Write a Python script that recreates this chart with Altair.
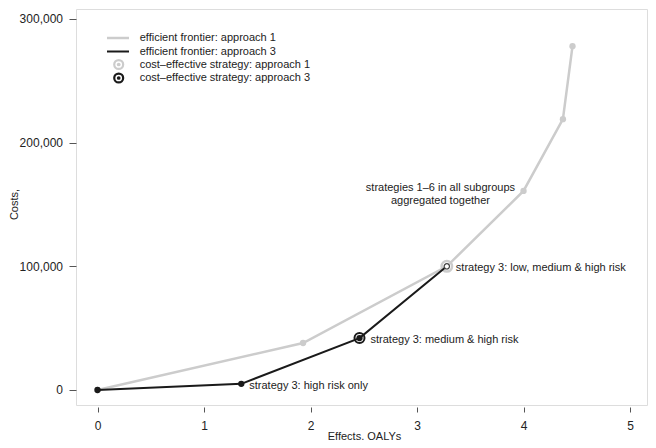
import altair as alt
import pandas as pd

# ---- data ----
ef1_x = [0, 1.93, 3.28, 4.0, 4.37, 4.46]
ef1_y = [0, 38000, 100000, 161000, 219000, 278000]
ef3_x = [0, 1.35, 2.46, 3.28]
ef3_y = [0, 5000, 42000, 100000]
ce1_x = [3.28]
ce1_y = [100000]
ce3_x = [2.46]
ce3_y = [42000]
ann_labels = ["strategy 3: high risk only", "strategy 3: medium & high risk",
              "strategy 3: low, medium & high risk"]
ann_x = [1.35, 2.46, 3.28]
ann_y = [5000, 42000, 100000]
ann_dx = [8, 11, 9]
note_lines = ["strategies 1\u20136 in all subgroups", "aggregated together"]
note_x = [3.22]
note_y = [163000]
legend_labels = ["efficient frontier: approach 1", "efficient frontier: approach 3",
                 "cost\u2013effective strategy: approach 1", "cost\u2013effective strategy: approach 3"]
x_ticks = [0, 1, 2, 3, 4, 5]
y_ticks = [0, 100000, 200000, 300000]

GRAY = "#cccccc"
BLACK = "#1a1a1a"
TXT = "#222222"
FONT = "Liberation Sans"

W, H = 571, 396

xs = alt.Scale(domain=[-0.202, 5.1595], nice=False, zero=False)
ys = alt.Scale(domain=[-12130, 308086], nice=False, zero=False)
x_axis = alt.Axis(values=x_ticks, format="d", title="Effects, QALYs", grid=False, domain=False,
                  ticks=True, tickSize=5, offset=2, labelPadding=8, tickColor="#555",
                  labelFontSize=12, labelFont=FONT, labelColor=TXT, titleFont=FONT,
                  titleFontSize=11, titleFontWeight="normal", titleColor=TXT,
                  titleX=288, titleY=32, titleBaseline="alphabetic")
y_axis = alt.Axis(values=y_ticks, format=",.0f", title="Costs,", grid=False, domain=False,
                  ticks=True, tickSize=7, offset=0, labelPadding=6.5, tickColor="#555",
                  labelFontSize=12, labelFont=FONT, labelColor=TXT, titleFont=FONT,
                  titleFontSize=11, titleFontWeight="normal", titleColor=TXT,
                  titleX=-59, titleY=195, titleAngle=270, titleAlign="center",
                  titleBaseline="alphabetic")

def X(f="x"):
    return alt.X(f"{f}:Q", scale=xs, axis=x_axis)

def Y(f="y"):
    return alt.Y(f"{f}:Q", scale=ys, axis=y_axis)

d1 = pd.DataFrame({"x": ef1_x, "y": ef1_y})
d3 = pd.DataFrame({"x": ef3_x, "y": ef3_y})
dc1 = pd.DataFrame({"x": ce1_x, "y": ce1_y})
dc3 = pd.DataFrame({"x": ce3_x, "y": ce3_y})

layers = []
layers.append(alt.Chart(d1).mark_line(color=GRAY, strokeWidth=2.5).encode(x=X(), y=Y()))
layers.append(alt.Chart(d1).mark_circle(color=GRAY, size=40, opacity=1).encode(x=X(), y=Y()))
layers.append(alt.Chart(dc1).mark_point(shape="circle", color=GRAY, filled=False, size=110,
                                        strokeWidth=2.5, opacity=1).encode(x=X(), y=Y()))
layers.append(alt.Chart(d3).mark_line(color=BLACK, strokeWidth=2).encode(x=X(), y=Y()))
layers.append(alt.Chart(d3.iloc[:3]).mark_circle(color=BLACK, size=40, opacity=1).encode(x=X(), y=Y()))
layers.append(alt.Chart(dc1).mark_point(shape="circle", fill="white", stroke="#444", filled=True,
                                        size=28, strokeWidth=1.2, opacity=1).encode(x=X(), y=Y()))
layers.append(alt.Chart(dc3).mark_point(shape="circle", color=BLACK, filled=False, size=100,
                                        strokeWidth=2, opacity=1).encode(x=X(), y=Y()))

for lab, ax, ay, dx in zip(ann_labels, ann_x, ann_y, ann_dx):
    dfa = pd.DataFrame({"x": [ax], "y": [ay], "t": [lab]})
    layers.append(alt.Chart(dfa).mark_text(align="left", baseline="middle", dx=dx, dy=2,
                                           font=FONT, fontSize=11, color=TXT)
                  .encode(x=X(), y=Y(), text="t:N"))

dn = pd.DataFrame({"x": note_x, "y": note_y, "t": ["\n".join(note_lines)]})
layers.append(alt.Chart(dn).mark_text(align="center", baseline="middle", lineBreak="\n",
                                      lineHeight=13, font=FONT, fontSize=11, color=TXT)
              .encode(x=X(), y=Y(), text="t:N"))

# ---- manual legend (pixel layout) ----
one = pd.DataFrame({"a": [0]})
row_y = [29, 42.5, 55.5, 69]
layers.append(alt.Chart(one).mark_rule(color=GRAY, strokeWidth=2.5)
              .encode(x=alt.value(31), x2=alt.value(53), y=alt.value(row_y[0])))
layers.append(alt.Chart(one).mark_rule(color=BLACK, strokeWidth=2)
              .encode(x=alt.value(31), x2=alt.value(53), y=alt.value(row_y[1])))
layers.append(alt.Chart(one).mark_point(shape="circle", color=GRAY, filled=False, size=80,
                                        strokeWidth=2.2, opacity=1)
              .encode(x=alt.value(42.7), y=alt.value(row_y[2])))
layers.append(alt.Chart(one).mark_circle(color=GRAY, size=14, opacity=1)
              .encode(x=alt.value(42.7), y=alt.value(row_y[2])))
layers.append(alt.Chart(one).mark_point(shape="circle", color=BLACK, filled=False, size=80,
                                        strokeWidth=2.2, opacity=1)
              .encode(x=alt.value(42.7), y=alt.value(row_y[3])))
layers.append(alt.Chart(one).mark_circle(color=BLACK, size=14, opacity=1)
              .encode(x=alt.value(42.7), y=alt.value(row_y[3])))
for lab, ry in zip(legend_labels, row_y):
    dl = pd.DataFrame({"t": [lab]})
    layers.append(alt.Chart(dl).mark_text(align="left", baseline="middle", font=FONT,
                                          fontSize=11, color=TXT)
                  .encode(x=alt.value(63.7), y=alt.value(ry), text="t:N"))

chart = alt.layer(*layers).properties(
    width=W, height=H,
    padding={"left": 68, "top": 1, "right": 1, "bottom": 35},
    autosize=alt.AutoSizeParams(type="none"),
).configure_view(stroke="#777777", strokeWidth=1).configure(background="white")

chart.save("out.html", embed_options={"renderer": "svg", "actions": False})
